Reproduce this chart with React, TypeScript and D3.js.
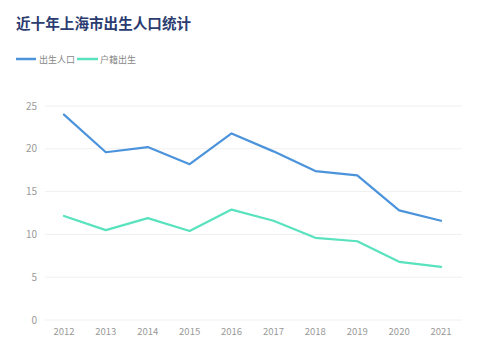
import React from "react";
import * as d3 from "d3";

const years = ["2012", "2013", "2014", "2015", "2016", "2017", "2018", "2019", "2020", "2021"];
const births = [24.0, 19.6, 20.2, 18.2, 21.8, 19.7, 17.4, 16.9, 12.8, 11.6];
const registeredBirths = [12.15, 10.5, 11.9, 10.4, 12.9, 11.6, 9.6, 9.2, 6.8, 6.2];
const yTicks = [0, 5, 10, 15, 20, 25];
const seriesNames = ["出生人口", "户籍出生"];
const colors = ["#4b93db", "#58e2bd"];

const W = 500;
const H = 358;

export default function App() {
  const x = d3.scaleBand<string>().domain(years).range([43, 462]);
  const y = d3.scaleLinear().domain([0, 25]).range([320, 106]);
  const line = d3
    .line<number>()
    .x((_, i) => (x(years[i]) as number) + x.bandwidth() / 2)
    .y((d) => y(d));
  const font = "'Noto Sans CJK SC', 'Noto Sans', sans-serif";
  const series = [births, registeredBirths];
  return (
    <svg
      width={W}
      height={H}
      style={{ position: "absolute", left: 0, top: 0, background: "#fff" }}
      fontFamily={font}
    >
      <text x={16} y={29} fontSize={14.6} fontWeight={700} fill="#2b3c70">
        近十年上海市出生人口统计
      </text>
      {/* legend */}
      <g>
        <line x1={16} x2={36} y1={59} y2={59} stroke={colors[0]} strokeWidth={2.5} />
        <text x={39} y={62.5} fontSize={9} fill="#888">{seriesNames[0]}</text>
        <line x1={77} x2={98} y1={59} y2={59} stroke={colors[1]} strokeWidth={2.5} />
        <text x={100} y={62.5} fontSize={9} fill="#888">{seriesNames[1]}</text>
      </g>
      {yTicks.map((t) => (
        <g key={t}>
          <line x1={45} x2={462} y1={y(t)} y2={y(t)} stroke="#f0f0f0" strokeWidth={1} />
          <text x={37} y={y(t) + 3.5} fontSize={10} fill="#999" textAnchor="end">
            {t}
          </text>
        </g>
      ))}
      {years.map((yr) => (
        <text
          key={yr}
          x={(x(yr) as number) + x.bandwidth() / 2}
          y={335}
          fontSize={9.5}
          fill="#999"
          textAnchor="middle"
        >
          {yr}
        </text>
      ))}
      {series.map((s, i) => (
        <path
          key={i}
          d={line(s) || ""}
          fill="none"
          stroke={colors[i]}
          strokeWidth={2.2}
          strokeLinejoin="round"
          strokeLinecap="round"
        />
      ))}
    </svg>
  );
}
